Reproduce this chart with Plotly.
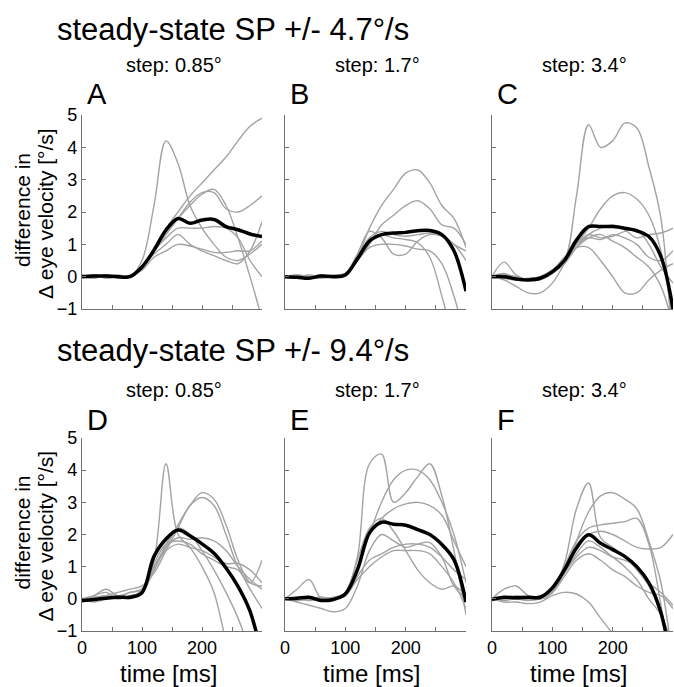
import plotly.graph_objects as go

W, H = 674, 687

T = [0, 20, 40, 60, 80, 100, 120, 140, 160, 180, 200, 220, 240, 260, 280, 300]

# ---- Panel A (steady-state 4.7 deg/s, step 0.85) ----
A_mean = [0, 0.02, 0.02, 0, 0, 0.3, 0.82, 1.44, 1.8, 1.65, 1.75, 1.77, 1.55, 1.45, 1.32, 1.24]
A_1 = [0.05, -0.05, 0.05, -0.05, 0.0, 0.5, 2.2, 4.2, 3.5, 2.2, 1.5, 1.0, 0.6, 0.5, 0.7, 1.0]
A_2 = [0, 0.05, -0.05, 0, 0.02, 0.3, 0.9, 1.5, 2.0, 2.5, 2.9, 3.3, 3.7, 4.2, 4.65, 4.9]
A_3 = [0, -0.05, 0.05, 0, 0, 0.3, 0.8, 1.4, 1.8, 2.2, 2.55, 2.7, 2.2, 1.2, 0.0, -1.3]
A_4 = [0, 0, 0, 0.05, 0, 0.3, 0.8, 1.3, 1.8, 2.3, 2.6, 2.6, 2.1, 2.0, 2.2, 2.5]
A_5 = [0, 0.05, 0, 0, 0.05, 0.3, 0.8, 1.2, 1.5, 1.5, 1.5, 1.55, 1.5, 1.2, 0.5, 0.0]
A_6 = [0, 0, 0.05, 0, 0, 0.3, 0.7, 1.0, 1.3, 1.0, 0.8, 0.65, 0.5, 0.4, 0.8, 1.7]
A_7 = [0.05, 0, 0, 0, 0.02, 0.2, 0.6, 0.8, 1.0, 0.95, 0.85, 0.75, 0.75, 0.8, 0.8, 1.1]

# ---- Panel B (step 1.7) ----
B_mean = [0, -0.02, -0.05, 0.02, 0, 0.05, 0.55, 1.1, 1.3, 1.35, 1.37, 1.42, 1.43, 1.3, 0.8, -0.45]
B_1 = [0, 0, -0.05, 0, 0, 0.1, 0.6, 1.5, 2.2, 2.7, 3.2, 3.3, 2.9, 2.2, 1.8, 0.9]
B_2 = [0, 0.05, 0, -0.05, 0, 0.1, 0.5, 1.0, 1.6, 1.9, 2.2, 2.35, 2.1, 1.6, 1.5, 1.0]
B_3 = [0, -0.05, 0, 0.05, 0, 0.1, 0.7, 1.4, 1.2, 0.7, 0.7, 1.1, 1.3, 1.25, 1.0, 0.5]
B_4 = [0, 0, 0.05, 0, 0, 0.1, 0.6, 1.1, 1.3, 1.2, 1.15, 1.05, 0.6, -0.6, -2.0, -3.0]
B_5 = [0, 0.05, 0, 0, 0.05, 0.1, 0.5, 0.9, 1.0, 1.0, 0.95, 0.85, 0.8, 0.4, -0.6, -2.0]
B_6 = [0, 0, -0.05, 0, 0, 0.1, 0.6, 1.2, 1.4, 1.3, 1.25, 1.3, 1.35, 1.3, 1.0, 0.8]

# ---- Panel C (step 3.4) ----
C_mean = [0, 0.0, -0.07, -0.1, -0.05, 0.15, 0.5, 1.13, 1.55, 1.55, 1.55, 1.5, 1.42, 1.24, 0.62, -1.0]
C_1 = [0, 0.1, -0.05, -0.1, 0, 0.2, 0.5, 2.5, 4.7, 4.0, 4.2, 4.75, 4.6, 3.4, 1.8, -2.5]
C_2 = [0, 0.05, 0, -0.1, -0.05, 0.2, 0.5, 1.0, 1.5, 2.1, 2.5, 2.6, 2.4, 1.9, 0.8, -1.5]
C_3 = [0, 0.45, 0.05, -0.1, -0.1, 0.1, 0.4, 0.9, 1.3, 1.5, 1.6, 1.45, 1.2, 1.3, 1.35, 1.5]
C_4 = [0, -0.05, -0.1, -0.05, 0, 0.2, 0.6, 0.9, 0.9, 0.5, 0.0, -0.5, -0.5, -0.1, 0.2, 0.4]
C_5 = [0, -0.1, -0.3, -0.5, -0.5, -0.2, 0.4, 1.0, 1.2, 1.15, 1.3, 1.2, 1.0, 0.6, 0.5, 0.8]
C_6 = [0, 0, -0.1, -0.1, 0, 0.2, 0.5, 0.9, 1.2, 1.3, 1.1, 0.9, 0.6, 0.3, -0.3, -1.5]
C_7 = [0, 0.05, -0.05, -0.1, -0.05, 0.15, 0.5, 1.0, 1.3, 1.2, 1.25, 1.4, 1.45, 1.0, 0.3, -0.2]

# ---- Panel D (steady-state 9.4 deg/s, step 0.85) ----
D_mean = [-0.05, -0.02, 0.02, 0.05, 0.05, 0.19, 1.32, 1.86, 2.14, 1.96, 1.71, 1.42, 0.96, 0.39, -0.38, -1.8]
D_1 = [-0.1, 0.1, 0.3, 0.1, 0.2, 0.3, 1.2, 4.2, 2.0, 1.6, 1.0, 0.2, -1.3, -2.5, -3.0, -3.0]
D_2 = [0, 0.1, 0.2, 0.0, 0.1, 0.2, 0.9, 1.6, 2.3, 2.9, 3.3, 3.1, 2.3, 1.2, 0.5, 0.4]
D_3 = [-0.05, 0.0, 0.1, 0.2, 0.3, 0.4, 0.8, 1.5, 2.2, 2.9, 3.15, 2.9, 2.0, 1.0, 0.5, 1.2]
D_4 = [0, 0.05, 0, 0.1, 0.05, 0.3, 1.0, 1.6, 1.9, 1.85, 1.9, 1.8, 1.5, 1.0, 0.6, 0.3]
D_5 = [-0.1, 0, 0.1, 0, 0.1, 0.2, 1.1, 1.7, 1.8, 1.7, 1.4, 1.2, 1.0, 0.9, 0.3, -0.3]
D_6 = [0, -0.1, 0, 0.1, 0, 0.3, 1.0, 1.5, 1.7, 1.6, 1.5, 1.3, 1.1, 1.1, 0.9, 0.5]
D_7 = [0, 0.05, 0.1, 0.05, 0.2, 0.3, 0.9, 1.7, 2.2, 2.0, 1.5, 0.9, 0.2, -0.6, -1.6, -2.5]

# ---- Panel E (step 1.7) ----
E_mean = [0, 0.02, 0.05, -0.05, -0.02, 0.15, 0.9, 2.05, 2.38, 2.32, 2.29, 2.15, 2.0, 1.69, 1.22, -0.1]
E_1 = [0, 0.0, 0.05, 0.0, 0.0, 0.2, 1.3, 4.2, 4.5, 3.0, 3.3, 3.8, 4.2, 3.2, 1.5, -0.5]
E_2 = [0, -0.05, 0, 0.05, 0, 0.1, 0.9, 2.0, 3.0, 3.7, 4.0, 4.0, 3.7, 3.0, 2.0, 0.5]
E_3 = [0, 0, -0.05, 0, 0.05, 0.2, 1.0, 2.0, 2.5, 2.8, 2.95, 3.0, 2.9, 2.6, 1.8, 1.0]
E_4 = [0, 0.3, 0.6, 0.0, -0.05, 0.2, 1.2, 2.2, 2.5, 2.1, 1.5, 0.9, 0.5, 0.3, 0.4, 0.1]
E_5 = [0, 0, 0, 0.05, 0, 0.1, 0.7, 1.2, 1.4, 1.6, 1.7, 1.7, 1.6, 1.3, 0.9, 0.6]
E_6 = [0, 0.05, 0, -0.05, 0, 0.1, 0.6, 1.0, 1.3, 1.5, 1.5, 1.5, 1.4, 1.0, 0.5, -0.3]
E_7 = [0, -0.1, -0.2, -0.3, -0.4, -0.3, 0.4, 1.5, 2.0, 1.8, 1.6, 1.7, 1.75, 1.3, 0.4, 0.0]

# ---- Panel F (step 3.4) ----
F_mean = [-0.02, 0.05, 0.03, 0.05, 0.05, 0.34, 0.9, 1.58, 1.99, 1.73, 1.53, 1.32, 1.0, 0.5, -0.43, -2.3]
F_1 = [0, 0, 0.1, 0.05, 0.1, 0.3, 1.1, 2.8, 3.6, 1.9, 1.6, 1.3, 0.9, 0.4, -0.5, -1.8]
F_2 = [0, 0.05, 0, -0.05, 0, 0.2, 0.9, 1.8, 2.7, 3.2, 3.3, 3.1, 2.8, 1.8, 0.5, -2.0]
F_3 = [0, -0.05, 0, 0, 0.05, 0.2, 1.0, 1.8, 2.2, 2.3, 2.35, 2.4, 2.5, 1.7, -0.2, -2.5]
F_4 = [0, 0, 0.05, 0, 0, 0.2, 1.0, 1.7, 2.0, 2.1, 2.0, 1.8, 1.6, 1.55, 1.6, 2.0]
F_5 = [0, -0.1, -0.1, -0.15, -0.1, 0.1, 0.2, 0.15, -0.1, -0.6, -1.1, -1.8, -2.5, -3.0, -3.0, -3.0]
F_6 = [0, 0.3, 0.4, 0.1, 0.0, 0.2, 0.7, 1.2, 1.4, 1.2, 0.9, 0.7, 0.4, 0.2, 0.1, -0.3]
F_7 = [0, 0, 0.05, 0.05, 0, 0.2, 0.8, 1.4, 1.8, 1.6, 1.3, 1.0, 0.6, 0.0, -0.5, -1.5]
F_8 = [0, 0.05, 0, 0, 0.05, 0.25, 0.8, 1.3, 1.6, 1.5, 1.3, 1.2, 1.0, 0.5, 0.2, -0.2]

PANELS = [
    ("A", A_mean, [A_1, A_2, A_3, A_4, A_5, A_6, A_7]),
    ("B", B_mean, [B_1, B_2, B_3, B_4, B_5, B_6]),
    ("C", C_mean, [C_1, C_2, C_3, C_4, C_5, C_6, C_7]),
    ("D", D_mean, [D_1, D_2, D_3, D_4, D_5, D_6, D_7]),
    ("E", E_mean, [E_1, E_2, E_3, E_4, E_5, E_6, E_7]),
    ("F", F_mean, [F_1, F_2, F_3, F_4, F_5, F_6, F_7, F_8]),
]

ROW_TITLES = ["steady-state SP +/- 4.7°/s", "steady-state SP +/- 9.4°/s"]
STEP_LABELS = ["step: 0.85°", "step: 1.7°", "step: 3.4°"]
X_TICKS = [0, 50, 100, 150, 200, 250, 300]
X_TICKTEXT = ["0", "", "100", "", "200", "", ""]
Y_TICKS = [-1, 0, 1, 2, 3, 4, 5]
Y_TITLE_1 = "difference in"
Y_TITLE_2 = "Δ eye velocity [°/s]"
X_TITLE = "time [ms]"

FONT = "Liberation Sans, Arial, Helvetica, sans-serif"
GRAY = "#a3a3a3"
AXC = "#707070"

# pixel layout
COL_X = [(82, 262), (285, 466), (492, 673)]
ROW_Y = [(115, 309), (438, 631)]


def px(x):
    return x / W


def py(y):
    return 1 - y / H


fig = go.Figure()
layout = {}
for i, (letter, mean, grays) in enumerate(PANELS):
    r, c = divmod(i, 3)
    n = "" if i == 0 else str(i + 1)
    xa, ya = "x" + n, "y" + n
    for g in grays:
        fig.add_trace(go.Scatter(x=T, y=g, mode="lines", xaxis=xa, yaxis=ya,
                                 line=dict(color=GRAY, width=1.4, shape="spline", smoothing=1.0),
                                 showlegend=False, hoverinfo="skip"))
    fig.add_trace(go.Scatter(x=T, y=mean, mode="lines", xaxis=xa, yaxis=ya,
                             line=dict(color="black", width=3.5, shape="spline", smoothing=1.0),
                             showlegend=False, hoverinfo="skip"))
    x0, x1 = COL_X[c]
    y0, y1 = ROW_Y[r]
    layout["xaxis" + n] = dict(
        domain=[px(x0), px(x1)], range=[0, 300], anchor=ya,
        showline=True, linecolor=AXC, linewidth=1.3, mirror=False,
        ticks="inside", ticklen=4, tickcolor=AXC, tickwidth=1.3,
        tickvals=X_TICKS, ticktext=X_TICKTEXT, showticklabels=(r == 1),
        tickfont=dict(family=FONT, size=18, color="black"),
        showgrid=False, zeroline=False, fixedrange=True, automargin=False,
    )
    layout["yaxis" + n] = dict(
        domain=[py(y1), py(y0)], range=[-1, 5], anchor=xa,
        showline=True, linecolor=AXC, linewidth=1.3,
        ticks="inside", ticklen=4, tickcolor=AXC, tickwidth=1.3,
        tickvals=Y_TICKS, showticklabels=(c == 0),
        tickfont=dict(family=FONT, size=18, color="black"),
        showgrid=False, zeroline=False, fixedrange=True, automargin=False,
    )

ann = []
for r in range(2):
    ty = [30, 350][r]
    ann.append(dict(text=ROW_TITLES[r], x=px(55), y=py(ty), xanchor="left", yanchor="middle",
                    font=dict(family=FONT, size=31, color="black")))
    sy = [65, 390][r]
    ly = [94, 420][r]
    for c in range(3):
        x0, x1 = COL_X[c]
        ann.append(dict(text=STEP_LABELS[c], x=px((x0 + x1) / 2 + 2), y=py(sy), xanchor="center",
                        yanchor="middle", font=dict(family=FONT, size=20, color="black")))
        ann.append(dict(text=PANELS[r * 3 + c][0], x=px(x0 + 3), y=py(ly), xanchor="left",
                        yanchor="middle", font=dict(family=FONT, size=29, color="black")))
    y0, y1 = ROW_Y[r]
    ann.append(dict(text=Y_TITLE_1, x=px(22), y=py((y0 + y1) / 2 - 2), xanchor="center", yanchor="middle",
                    textangle=-90, font=dict(family=FONT, size=21, color="black")))
    ann.append(dict(text=Y_TITLE_2, x=px(45), y=py((y0 + y1) / 2 + 2), xanchor="center", yanchor="middle",
                    textangle=-90, font=dict(family=FONT, size=21, color="black")))
for c in range(3):
    x0, x1 = COL_X[c]
    ann.append(dict(text=X_TITLE, x=px(x0 + 86), y=py(673), xanchor="center", yanchor="middle",
                    font=dict(family=FONT, size=24, color="black")))
for a in ann:
    a.update(xref="paper", yref="paper", showarrow=False)

fig.update_layout(
    width=W, height=H, margin=dict(l=0, r=0, t=0, b=0),
    paper_bgcolor="white", plot_bgcolor="white",
    annotations=ann, **layout,
)
fig.write_html("out.html", config={"displayModeBar": False},
               post_script="document.body.style.margin='0';document.body.style.overflow='hidden';")
